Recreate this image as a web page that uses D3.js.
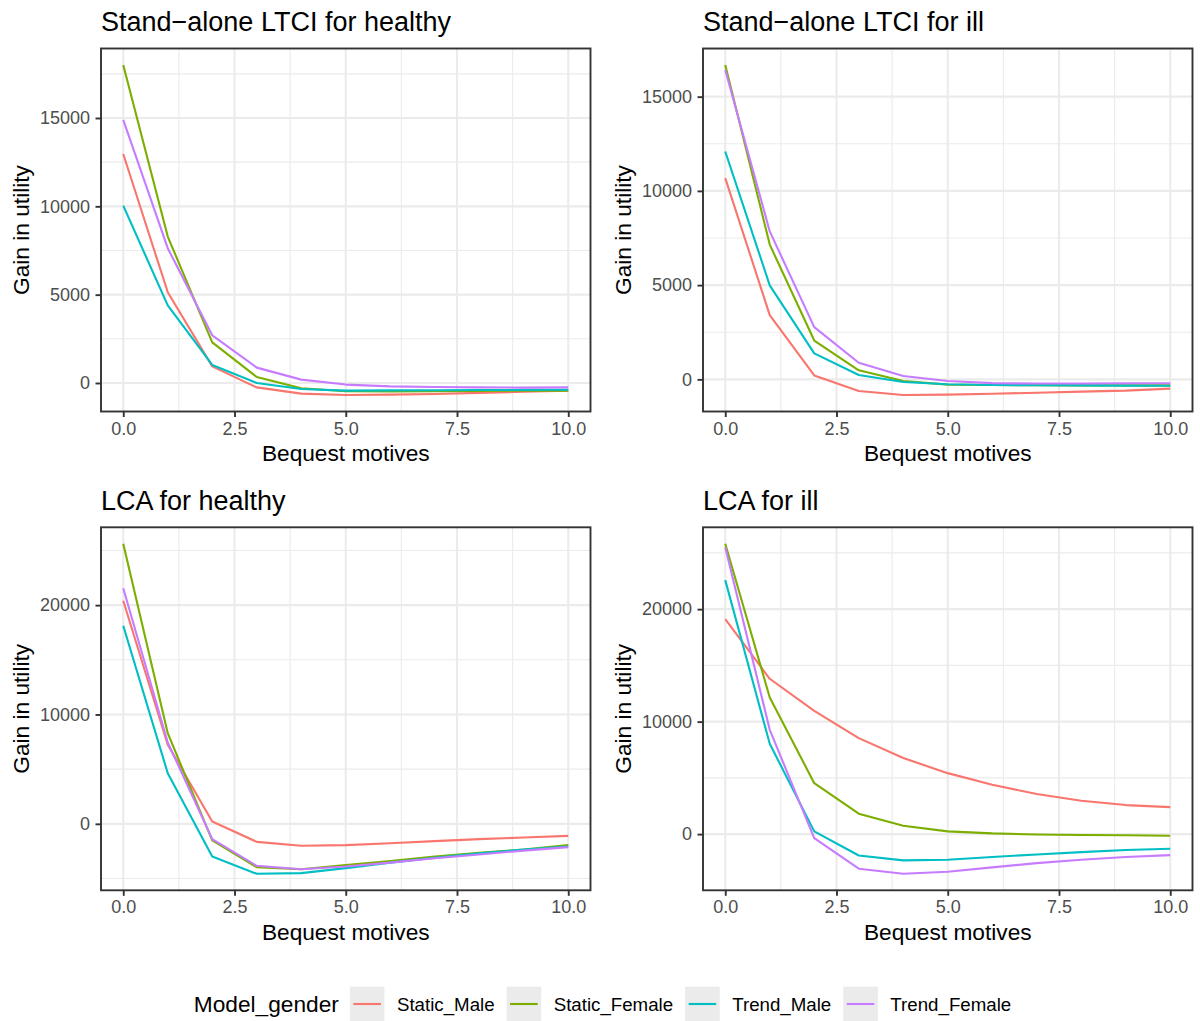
<!DOCTYPE html>
<html>
<head>
<meta charset="utf-8">
<script src="https://cdn.jsdelivr.net/npm/d3@7"></script>
<style>
  body { margin: 0; background: #fff; }
  text { font-family: "Liberation Sans", Arial, Helvetica, sans-serif; }
</style>
</head>
<body>
<script>
// Bequest motive levels on the x axis
const bequestMotives = [0, 1, 2, 3, 4, 5, 6, 7, 8, 9, 10];

const seriesNames  = ["Static_Male", "Static_Female", "Trend_Male", "Trend_Female"];
const seriesColors = ["#F8766D", "#7CAE00", "#00BFC4", "#C77CFF"];

const panelTitles = ["Stand\u2212alone LTCI for healthy", "Stand\u2212alone LTCI for ill",
                     "LCA for healthy", "LCA for ill"];

const xBreaks = [0, 2.5, 5, 7.5, 10];
const yBreaksLtciHealthy = [0, 5000, 10000, 15000];
const yBreaksLtciIll     = [0, 5000, 10000, 15000];
const yBreaksLcaHealthy  = [0, 10000, 20000];
const yBreaksLcaIll      = [0, 10000, 20000];

// Gain in utility — stand-alone LTCI, healthy
const ltciHealthyStaticMale   = [12960, 5140, 940, -250, -600, -680, -660, -620, -560, -500, -430];
const ltciHealthyStaticFemale = [18000, 8290, 2300, 340, -300, -470, -480, -470, -450, -440, -430];
const ltciHealthyTrendMale    = [10040, 4390, 1020, 0, -340, -430, -420, -410, -400, -390, -380];
const ltciHealthyTrendFemale  = [14890, 7630, 2700, 870, 190, -90, -190, -230, -250, -260, -250];

// Gain in utility — stand-alone LTCI, ill
const ltciIllStaticMale   = [10680, 3410, 210, -620, -830, -810, -760, -710, -650, -600, -490];
const ltciIllStaticFemale = [16680, 7150, 2060, 480, -90, -280, -300, -310, -320, -320, -320];
const ltciIllTrendMale    = [12090, 4990, 1380, 230, -140, -260, -300, -310, -320, -330, -340];
const ltciIllTrendFemale  = [16410, 7850, 2770, 880, 180, -90, -200, -220, -220, -210, -210];

// Gain in utility — LCA, healthy
const lcaHealthyStaticMale   = [20400, 7230, 210, -1650, -2010, -1950, -1780, -1580, -1400, -1250, -1100];
const lcaHealthyStaticFemale = [25610, 8290, -1520, -3960, -4150, -3780, -3400, -3000, -2650, -2350, -1950];
const lcaHealthyTrendMale    = [18110, 4630, -2990, -4570, -4510, -4050, -3550, -3100, -2700, -2350, -2070];
const lcaHealthyTrendFemale  = [21550, 7440, -1400, -3840, -4150, -3900, -3550, -3150, -2800, -2450, -2130];

// Gain in utility — LCA, ill
const lcaIllStaticMale   = [19110, 13810, 10960, 8530, 6760, 5420, 4390, 3560, 2960, 2580, 2400];
const lcaIllStaticFemale = [25810, 12150, 4530, 1810, 740, 240, 60, -30, -80, -100, -150];
const lcaIllTrendMale    = [22580, 8030, 240, -1900, -2340, -2280, -2040, -1810, -1600, -1420, -1300];
const lcaIllTrendFemale  = [25510, 9270, -360, -3080, -3530, -3350, -2960, -2580, -2280, -2040, -1870];

const panels = [
  { title: panelTitles[0], yBreaks: yBreaksLtciHealthy,
    series: [ltciHealthyStaticMale, ltciHealthyStaticFemale, ltciHealthyTrendMale, ltciHealthyTrendFemale] },
  { title: panelTitles[1], yBreaks: yBreaksLtciIll,
    series: [ltciIllStaticMale, ltciIllStaticFemale, ltciIllTrendMale, ltciIllTrendFemale] },
  { title: panelTitles[2], yBreaks: yBreaksLcaHealthy,
    series: [lcaHealthyStaticMale, lcaHealthyStaticFemale, lcaHealthyTrendMale, lcaHealthyTrendFemale] },
  { title: panelTitles[3], yBreaks: yBreaksLcaIll,
    series: [lcaIllStaticMale, lcaIllStaticFemale, lcaIllTrendMale, lcaIllTrendFemale] }
];

// ---- layout ----
const W = 1200, H = 1021;
const colX = [101, 703];
const rowY = [48.5, 527.3];
const PW = 489.5, PH = 363;
const GRID = "#EBEBEB", DARK = "#333333", TICKTXT = "#4D4D4D";
const FS_TICK = 18, FS_AXTITLE = 22.7, FS_TITLE = 27, FS_LEGEND = 18.7;

const svg = d3.select("body").append("svg")
  .attr("width", W).attr("height", H);
svg.append("rect").attr("width", W).attr("height", H).attr("fill", "#fff");

// minor breaks sit halfway between major breaks, kept inside the panel range
function minorBreaks(breaks, lo, hi) {
  const step = breaks[1] - breaks[0];
  const out = [];
  for (let v = breaks[0] - step / 2 - step * 3; v <= hi; v += step) {
    if (v >= lo && v <= hi) out.push(v);
  }
  return out;
}

panels.forEach((p, i) => {
  const col = i % 2, row = Math.floor(i / 2);
  const g = svg.append("g").attr("transform", `translate(${colX[col]},${rowY[row]})`);

  const x = d3.scaleLinear()
    .domain(d3.extent(bequestMotives)).range([0, PW]);
  const xr = x.domain()[1] - x.domain()[0];
  x.domain([x.domain()[0] - xr * 0.05, x.domain()[1] + xr * 0.05]);

  const [lo, hi] = d3.extent(p.series.flat());
  const pad = (hi - lo) * 0.05;
  const y = d3.scaleLinear().domain([lo - pad, hi + pad]).range([PH, 0]);

  // panel background
  g.append("rect").attr("width", PW).attr("height", PH).attr("fill", "#fff");

  // minor grid
  const xd = x.domain(), yd = y.domain();
  g.append("g").selectAll("line").data(minorBreaks(xBreaks, xd[0], xd[1])).join("line")
    .attr("x1", d => x(d)).attr("x2", d => x(d)).attr("y1", 0).attr("y2", PH)
    .attr("stroke", GRID).attr("stroke-width", 1.1);
  g.append("g").selectAll("line").data(minorBreaks(p.yBreaks, yd[0], yd[1])).join("line")
    .attr("y1", d => y(d)).attr("y2", d => y(d)).attr("x1", 0).attr("x2", PW)
    .attr("stroke", GRID).attr("stroke-width", 1.1);
  // major grid
  g.append("g").selectAll("line").data(xBreaks).join("line")
    .attr("x1", d => x(d)).attr("x2", d => x(d)).attr("y1", 0).attr("y2", PH)
    .attr("stroke", GRID).attr("stroke-width", 2.1);
  g.append("g").selectAll("line").data(p.yBreaks).join("line")
    .attr("y1", d => y(d)).attr("y2", d => y(d)).attr("x1", 0).attr("x2", PW)
    .attr("stroke", GRID).attr("stroke-width", 2.1);

  // series lines
  const line = d3.line().x((d, k) => x(bequestMotives[k])).y(d => y(d));
  p.series.forEach((s, k) => {
    g.append("path").datum(s).attr("d", line)
      .attr("fill", "none").attr("stroke", seriesColors[k])
      .attr("stroke-width", 2.1).attr("stroke-linejoin", "round");
  });

  // border
  g.append("rect").attr("width", PW).attr("height", PH)
    .attr("fill", "none").attr("stroke", DARK).attr("stroke-width", 1.9);

  // axes
  const xAxis = g.append("g").attr("transform", `translate(0,${PH})`)
    .call(d3.axisBottom(x).tickValues(xBreaks).tickFormat(d3.format(".1f"))
      .tickSize(5.5).tickPadding(4.9));
  const yAxis = g.append("g")
    .call(d3.axisLeft(y).tickValues(p.yBreaks).tickFormat(d3.format("d"))
      .tickSize(5.5).tickPadding(5.5));
  [xAxis, yAxis].forEach(a => {
    a.select(".domain").remove();
    a.selectAll(".tick line").attr("stroke", DARK).attr("stroke-width", 1.9);
    a.selectAll(".tick text").attr("fill", TICKTXT)
      .style("font-size", FS_TICK + "px")
      .style("font-family", '"Liberation Sans", Arial, sans-serif');
  });

  // axis titles
  g.append("text").attr("x", PW / 2).attr("y", PH + 49.5)
    .attr("text-anchor", "middle").style("font-size", FS_AXTITLE + "px")
    .attr("fill", "#000").text("Bequest motives");
  g.append("text")
    .attr("transform", `translate(${29 - colX[0]},${PH / 2}) rotate(-90)`)
    .attr("text-anchor", "middle").style("font-size", FS_AXTITLE + "px")
    .attr("fill", "#000").text("Gain in utility");

  // panel title
  g.append("text").attr("x", 0).attr("y", -17.5)
    .style("font-size", FS_TITLE + "px").attr("fill", "#000").text(p.title);
});

// ---- legend ----
const legendY = 1004;
const leg = svg.append("g");
const legTitle = leg.append("text").attr("x", 0).attr("y", legendY)
  .attr("dominant-baseline", "central")
  .style("font-size", FS_AXTITLE + "px").attr("fill", "#000").text("Model_gender");
let cx = legTitle.node().getComputedTextLength() + 11;
const KEY = 34.6;
seriesNames.forEach((name, k) => {
  leg.append("rect").attr("x", cx).attr("y", legendY - KEY / 2)
    .attr("width", KEY).attr("height", KEY).attr("fill", "#EBEBEB");
  leg.append("line").attr("x1", cx + 3.5).attr("x2", cx + KEY - 3.5)
    .attr("y1", legendY).attr("y2", legendY)
    .attr("stroke", seriesColors[k]).attr("stroke-width", 2.1);
  cx += KEY + 12.5;
  const t = leg.append("text").attr("x", cx).attr("y", legendY)
    .attr("dominant-baseline", "central")
    .style("font-size", FS_LEGEND + "px").attr("fill", "#000").text(name);
  cx += t.node().getComputedTextLength() + (k < seriesNames.length - 1 ? 12 : 0);
});
leg.attr("transform", `translate(${602.5 - cx / 2},0)`);
</script>
</body>
</html>
